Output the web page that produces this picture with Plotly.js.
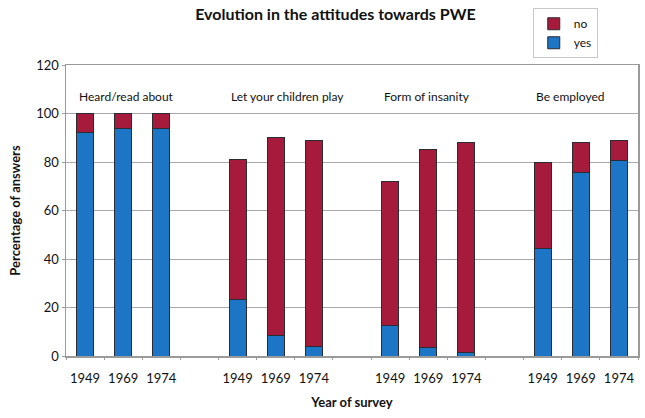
<!DOCTYPE html>
<html>
<head>
<meta charset="utf-8">
<script src="https://cdn.plot.ly/plotly-3.0.1.min.js"></script>
<style>html,body{margin:0;padding:0;background:#fff}#chart{width:645px;height:418px}</style>
</head>
<body>
<div id="chart"></div>
<script>
var groups = ["Heard/read about", "Let your children play", "Form of insanity", "Be employed"];
var years = ["1949", "1969", "1974"];
var yesValues = [92, 94, 94, 23.5, 8.5, 4, 12.5, 3.5, 1.5, 44.5, 75.5, 80.5];
var noValues = [8, 6, 6, 57.5, 81.5, 85, 59.5, 81.5, 86.5, 35.5, 12.5, 8.5];

var slotsPerGroup = years.length + 1;
var xs = [], tickvals = [], ticktext = [];
groups.forEach(function (g, gi) {
  years.forEach(function (y, yi) {
    var pos = gi * slotsPerGroup + yi;
    xs.push(pos);
    tickvals.push(pos);
    ticktext.push(y);
  });
});
var nSlots = groups.length * slotsPerGroup - 1;

var lineStyle = {color: '#2b2b33', width: 1};
var traces = [
  {type: 'bar', name: 'yes', x: xs, y: yesValues, marker: {color: '#1d75c6', line: lineStyle}, width: 0.45},
  {type: 'bar', name: 'no', x: xs, y: noValues, marker: {color: '#a61b3b', line: lineStyle}, width: 0.45}
];

var annotations = groups.map(function (g, gi) {
  return {
    text: g, xref: 'x', yref: 'y', x: gi * slotsPerGroup - 0.5 + 0.28, y: 107,
    xanchor: 'left', yanchor: 'middle', showarrow: false,
    font: {size: 12, color: '#111', family: 'Lato, sans-serif'}
  };
});

var boundaries = [];
for (var i = 0; i <= nSlots; i++) boundaries.push(i - 0.5);

var layout = {
  width: 645, height: 418,
  margin: {l: 66, r: 7, t: 65, b: 62},
  paper_bgcolor: '#fff', plot_bgcolor: '#fff',
  font: {family: 'Lato, sans-serif', color: '#111', size: 12},
  barmode: 'stack',
  title: {text: '<b>Evolution in the attitudes towards PWE</b>', x: 0.52, xanchor: 'center', y: 0.965, yanchor: 'middle', font: {size: 16, color: '#111'}},
  xaxis: {
    range: [-0.5, nSlots - 0.5],
    tickmode: 'array', tickvals: tickvals, ticktext: ticktext,
    ticks: '', showgrid: false, zeroline: false, ticklabelstandoff: 10,
    showline: true, linecolor: '#9a9a9a', linewidth: 1.5, mirror: true,
    tickfont: {size: 13, color: '#111'},
    title: {text: '<b>Year of survey</b>', font: {size: 13, color: '#111'}, standoff: 13}
  },
  xaxis2: {
    overlaying: 'x', range: [-0.5, nSlots - 0.5], tickmode: 'array', tickvals: boundaries,
    ticktext: boundaries.map(function () { return ''; }), ticks: 'outside', ticklen: 3, tickcolor: '#9a9a9a',
    showgrid: false, zeroline: false, showline: false, anchor: 'y', side: 'bottom'
  },
  yaxis: {
    range: [0, 120], dtick: 20, ticks: 'outside', ticklen: 3, tickcolor: '#9a9a9a',
    showgrid: true, gridcolor: '#a8a8a8', gridwidth: 1, zeroline: false,
    showline: true, linecolor: '#9a9a9a', linewidth: 1.5, mirror: true,
    tickfont: {size: 13, color: '#111'},
    title: {text: '<b>Percentage of answers</b>', font: {size: 13, color: '#111'}, standoff: 12}
  },
  legend: {
    x: 0.816, y: 1.195, xanchor: 'left', yanchor: 'top',
    bordercolor: '#c8c8c8', borderwidth: 1, bgcolor: '#fff',
    font: {size: 12, color: '#111'}, traceorder: 'reversed', itemwidth: 30
  },
  annotations: annotations,
  showlegend: true
};

traces.push({type: 'scatter', x: [0], y: [0], xaxis: 'x2', yaxis: 'y', mode: 'markers', marker: {opacity: 0}, showlegend: false, hoverinfo: 'skip'});

Plotly.newPlot('chart', traces, layout, {displayModeBar: false, staticPlot: true});
</script>
</body>
</html>
